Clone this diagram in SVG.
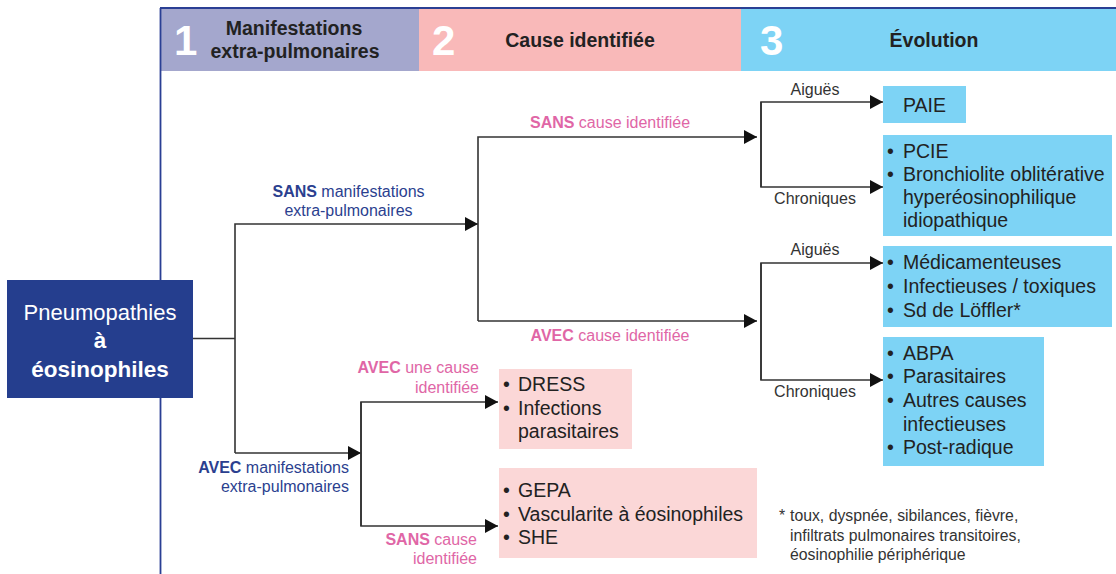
<svg xmlns="http://www.w3.org/2000/svg" width="1116" height="574" viewBox="0 0 1116 574">
<defs>
<marker id="arr" markerUnits="userSpaceOnUse" markerWidth="14" markerHeight="14" refX="13" refY="7" orient="auto">
<path d="M0,0 L13,7 L0,14 Z" fill="#111"/>
</marker>
<style>
text{font-family:"Liberation Sans",Arial,sans-serif}
.num{font-size:42px;font-weight:bold;fill:#fff}
.hd{font-size:19.5px;font-weight:bold;fill:#222;text-anchor:middle}
.lbB{font-size:16px;fill:#2b3f8f}
.lbP{font-size:16px;fill:#e066a6}
.lbK{font-size:16px;fill:#333}
.bx{font-size:19.5px;fill:#222}
.fn{font-size:15.8px;fill:#333}
.ln{fill:none;stroke:#333;stroke-width:1.6}
.blue{fill:#7dd3f5}
.pink{fill:#fbd7d7}
</style>
</defs>
<rect width="1116" height="574" fill="#fff"/>
<g id="header">
<rect x="161" y="9" width="258" height="62" fill="#a4a7cd"/>
<rect x="419" y="9" width="322" height="62" fill="#f9b9b9"/>
<rect x="741" y="9" width="375" height="62" fill="#7dd3f5"/>
<line x1="160" y1="8" x2="1116" y2="8" stroke="#2a3f94" stroke-width="1.8"/>
<line x1="160.5" y1="8" x2="160.5" y2="574" stroke="#2a3f94" stroke-width="1.8"/>
<text class="num" x="174" y="55">1</text>
<text class="num" x="432" y="55">2</text>
<text class="num" x="760" y="55">3</text>
<text class="hd" x="294" y="35">Manifestations</text>
<text class="hd" x="295" y="58">extra-pulmonaires</text>
<text class="hd" x="580" y="47">Cause identifiée</text>
<text class="hd" x="934" y="47">Évolution</text>
</g>
<g id="connectors">
<polyline class="ln" points="193,338.5 235,338.5"/>
<polyline class="ln" points="235,453 235,224 478,224" marker-end="url(#arr)"/>
<polyline class="ln" points="235,453 361,453" marker-end="url(#arr)"/>
<polyline class="ln" points="478,321 478,137 757,137" marker-end="url(#arr)"/>
<polyline class="ln" points="478,321 757,321" marker-end="url(#arr)"/>
<polyline class="ln" points="761,187 761,102 883,102" marker-end="url(#arr)"/>
<polyline class="ln" points="761,102 761,187 883,187" marker-end="url(#arr)"/>
<polyline class="ln" points="761,380 761,263 883,263" marker-end="url(#arr)"/>
<polyline class="ln" points="761,263 761,380 883,380" marker-end="url(#arr)"/>
<polyline class="ln" points="361,526 361,402 498,402" marker-end="url(#arr)"/>
<polyline class="ln" points="361,402 361,526 498,526" marker-end="url(#arr)"/>
<text class="lbB" x="348.5" y="197" text-anchor="middle"><tspan font-weight="bold">SANS</tspan> manifestations</text>
<text class="lbB" x="348.5" y="216" text-anchor="middle">extra-pulmonaires</text>
<text class="lbB" x="349" y="473" text-anchor="end"><tspan font-weight="bold">AVEC</tspan> manifestations</text>
<text class="lbB" x="349" y="492" text-anchor="end">extra-pulmonaires</text>
<text class="lbP" x="610" y="128" text-anchor="middle"><tspan font-weight="bold">SANS</tspan> cause identifiée</text>
<text class="lbP" x="610" y="341" text-anchor="middle"><tspan font-weight="bold">AVEC</tspan> cause identifiée</text>
<text class="lbP" x="479" y="373" text-anchor="end"><tspan font-weight="bold">AVEC</tspan> une cause</text>
<text class="lbP" x="479" y="393" text-anchor="end">identifiée</text>
<text class="lbP" x="477" y="545" text-anchor="end"><tspan font-weight="bold">SANS</tspan> cause</text>
<text class="lbP" x="477" y="564" text-anchor="end">identifiée</text>
<text class="lbK" x="815" y="95" text-anchor="middle">Aiguës</text>
<text class="lbK" x="815" y="204" text-anchor="middle">Chroniques</text>
<text class="lbK" x="815" y="255" text-anchor="middle">Aiguës</text>
<text class="lbK" x="815" y="397" text-anchor="middle">Chroniques</text>
</g>
<g id="main">
<rect x="7" y="280" width="186" height="118" fill="#253e8e"/>
<text x="100" y="320" text-anchor="middle" font-size="22" fill="#fff">Pneumopathies</text>
<text x="100" y="348" text-anchor="middle" font-size="22.5" font-weight="bold" fill="#fff">à</text>
<text x="100" y="377" text-anchor="middle" font-size="22.5" font-weight="bold" fill="#fff">éosinophiles</text>
</g>
<g id="paie">
<rect class="blue" x="883" y="86" width="83" height="37"/>
<text class="bx" x="903" y="112">PAIE</text>
</g>
<g id="pcie">
<rect class="blue" x="883" y="135" width="229" height="101"/>
<text class="bx" x="887" y="158">• </text><text class="bx" x="903" y="158">PCIE</text>
<text class="bx" x="887" y="181">• </text><text class="bx" x="903" y="181">Bronchiolite oblitérative</text>
<text class="bx" x="903" y="204">hyperéosinophilique</text>
<text class="bx" x="903" y="227">idiopathique</text>
</g>
<g id="aigues-cause">
<rect class="blue" x="883" y="246" width="229" height="81"/>
<text class="bx" x="887" y="269">• </text><text class="bx" x="903" y="269">Médicamenteuses</text>
<text class="bx" x="887" y="293">• </text><text class="bx" x="903" y="293">Infectieuses / toxiques</text>
<text class="bx" x="887" y="317">• </text><text class="bx" x="903" y="317">Sd de Löffler*</text>
</g>
<g id="chroniques-cause">
<rect class="blue" x="883" y="337" width="161" height="129"/>
<text class="bx" x="887" y="360">• </text><text class="bx" x="903" y="360">ABPA</text>
<text class="bx" x="887" y="383">• </text><text class="bx" x="903" y="383">Parasitaires</text>
<text class="bx" x="887" y="407">• </text><text class="bx" x="903" y="407">Autres causes</text>
<text class="bx" x="903" y="431">infectieuses</text>
<text class="bx" x="887" y="454">• </text><text class="bx" x="903" y="454">Post-radique</text>
</g>
<g id="dress">
<rect class="pink" x="499" y="369" width="133" height="80"/>
<text class="bx" x="503" y="391">• </text><text class="bx" x="518" y="391">DRESS</text>
<text class="bx" x="503" y="415">• </text><text class="bx" x="518" y="415">Infections</text>
<text class="bx" x="518" y="438">parasitaires</text>
</g>
<g id="gepa">
<rect class="pink" x="499" y="468" width="258" height="90"/>
<text class="bx" x="503" y="497">• </text><text class="bx" x="518" y="497">GEPA</text>
<text class="bx" x="503" y="521">• </text><text class="bx" x="518" y="521">Vascularite à éosinophiles</text>
<text class="bx" x="503" y="544">• </text><text class="bx" x="518" y="544">SHE</text>
</g>
<g id="footnote">
<text class="fn" x="779" y="521">*</text>
<text class="fn" x="790" y="521">toux, dyspnée, sibilances, fièvre,</text>
<text class="fn" x="790" y="541">infiltrats pulmonaires transitoires,</text>
<text class="fn" x="790" y="560">éosinophilie périphérique</text>
</g>
</svg>
